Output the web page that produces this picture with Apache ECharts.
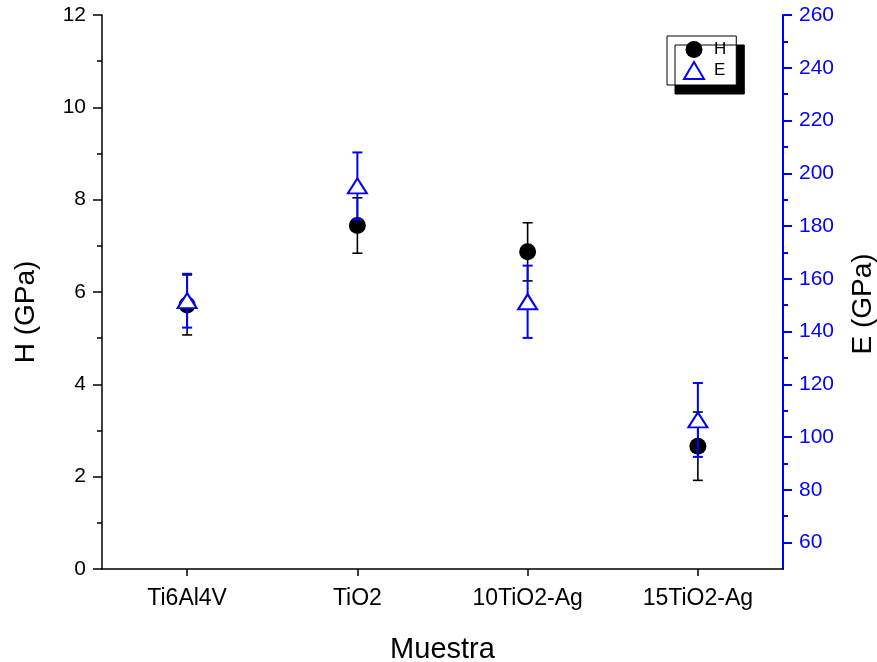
<!DOCTYPE html>
<html>
<head>
<meta charset="utf-8">
<script src="https://cdn.jsdelivr.net/npm/echarts@6/dist/echarts.min.js"></script>
<style>
html,body{margin:0;padding:0;background:#fff;}
#chart{width:877px;height:662px;}
</style>
</head>
<body>
<div id="chart"></div>
<script>
// ---- data ----
const categories = ['Ti6Al4V', 'TiO2', '10TiO2-Ag', '15TiO2-Ag'];
const hValues = [5.72, 7.44, 6.87, 2.66];
const hErrors = [0.65, 0.60, 0.63, 0.74];
const eValues = [151.7, 195.2, 151.3, 106.5];
const eErrors = [10.2, 12.7, 13.7, 14.0];
const hTicks = [0, 2, 4, 6, 8, 10, 12];
const eMajorTicks = [60, 80, 100, 120, 140, 160, 180, 200, 220, 240, 260];
const eMinorTicks = [70, 90, 110, 130, 150, 170, 190, 210, 230, 250];

const FONT = '"Liberation Sans", Arial, Helvetica, sans-serif';
const BLUE = '#0000ff';

function errData(vals, errs) {
  return vals.map((v, i) => [i, v - errs[i], v + errs[i]]);
}
function errRender(color, width) {
  return function (params, api) {
    const x = api.value(0);
    const p1 = api.coord([x, api.value(1)]);
    const p2 = api.coord([x, api.value(2)]);
    const hw = 5;
    const st = { stroke: color, lineWidth: width };
    return {
      type: 'group',
      children: [
        { type: 'line', shape: { x1: p1[0], y1: p1[1], x2: p2[0], y2: p2[1] }, style: st },
        { type: 'line', shape: { x1: p1[0] - hw, y1: p1[1], x2: p1[0] + hw, y2: p1[1] }, style: st },
        { type: 'line', shape: { x1: p2[0] - hw, y1: p2[1], x2: p2[0] + hw, y2: p2[1] }, style: st }
      ]
    };
  };
}

const chart = echarts.init(document.getElementById('chart'), null, { renderer: 'canvas' });
chart.setOption({
  animation: false,
  backgroundColor: '#fff',
  textStyle: { fontFamily: FONT },
  grid: { left: 102, right: 94, top: 15, bottom: 93, containLabel: false, outerBoundsMode: 'none' },
  legend: {
    data: ['H', 'E'],
    orient: 'vertical',
    left: 667,
    top: 36,
    padding: [5, 10, 5, 16],
    itemWidth: 20,
    itemHeight: 17,
    itemGap: 3,
    backgroundColor: '#fff',
    borderColor: '#000',
    borderWidth: 1,
    borderRadius: 0,
    shadowColor: '#000',
    shadowBlur: 0,
    shadowOffsetX: 8,
    shadowOffsetY: 9,
    textStyle: { fontFamily: FONT, fontSize: 17, color: '#000', lineHeight: 17, padding: [0, 0, 0, 5] },
    selectedMode: false
  },
  xAxis: {
    type: 'category',
    data: categories,
    boundaryGap: true,
    name: 'Muestra',
    nameLocation: 'middle',
    nameGap: 66,
    nameTextStyle: { fontFamily: FONT, fontSize: 29, color: '#000' },
    axisLine: { show: true, onZero: false, lineStyle: { color: '#000', width: 1.5 } },
    axisTick: { show: true, alignWithLabel: true, inside: false, length: 7, lineStyle: { color: '#000', width: 1.5 } },
    axisLabel: { fontFamily: FONT, fontSize: 23, color: '#000', margin: 18 },
    splitLine: { show: false }
  },
  yAxis: [
    {
      type: 'value',
      position: 'left',
      min: 0,
      max: 12,
      interval: 2,
      name: 'H (GPa)',
      nameLocation: 'middle',
      nameRotate: 90,
      nameGap: 62,
      nameTextStyle: { fontFamily: FONT, fontSize: 28, color: '#000', padding: [0, 40, 0, 0] },
      axisLine: { show: true, lineStyle: { color: '#000', width: 1.5 } },
      axisTick: { show: true, inside: false, length: 9, lineStyle: { color: '#000', width: 1.5 } },
      minorTick: { show: true, splitNumber: 2, length: 5, lineStyle: { color: '#000', width: 1.5 } },
      axisLabel: { fontFamily: FONT, fontSize: 21, color: '#000', margin: 16,
        customValues: hTicks },
      splitLine: { show: false },
      minorSplitLine: { show: false }
    },
    {
      type: 'value',
      position: 'right',
      min: 50,
      max: 260,
      name: 'E (GPa)',
      nameLocation: 'middle',
      nameRotate: 90,
      nameGap: 66,
      nameTextStyle: { fontFamily: FONT, fontSize: 28, color: '#000', padding: [0, 24, 0, 0] },
      axisLine: { show: true, lineStyle: { color: BLUE, width: 2 } },
      axisTick: { show: true, inside: false, length: 9, customValues: eMajorTicks, lineStyle: { color: BLUE, width: 2 } },
      axisLabel: { fontFamily: FONT, fontSize: 21, color: BLUE, margin: 16, customValues: eMajorTicks },
      splitLine: { show: false }
    },
    {
      type: 'value',
      position: 'right',
      min: 50,
      max: 260,
      axisLine: { show: false },
      axisTick: { show: true, inside: false, length: 5, customValues: eMinorTicks, lineStyle: { color: BLUE, width: 2 } },
      axisLabel: { show: false },
      splitLine: { show: false }
    }
  ],
  series: [
    {
      name: 'H err',
      type: 'custom',
      xAxisIndex: 0,
      yAxisIndex: 0,
      z: 1,
      renderItem: errRender('#000', 1.6),
      encode: { x: 0, y: [1, 2] },
      data: errData(hValues, hErrors),
      silent: true
    },
    {
      name: 'H',
      type: 'scatter',
      yAxisIndex: 0,
      z: 2,
      symbol: 'circle',
      symbolSize: 17,
      itemStyle: { color: '#000', opacity: 1 },
      data: hValues
    },
    {
      name: 'E err',
      type: 'custom',
      xAxisIndex: 0,
      yAxisIndex: 1,
      z: 3,
      renderItem: errRender(BLUE, 2),
      encode: { x: 0, y: [1, 2] },
      data: errData(eValues, eErrors),
      silent: true
    },
    {
      name: 'E',
      type: 'scatter',
      yAxisIndex: 1,
      z: 4,
      symbol: 'triangle',
      symbolSize: [19, 15],
      itemStyle: { color: '#fff', borderColor: BLUE, borderWidth: 2, opacity: 1 },
      data: eValues
    }
  ]
});
</script>
</body>
</html>
